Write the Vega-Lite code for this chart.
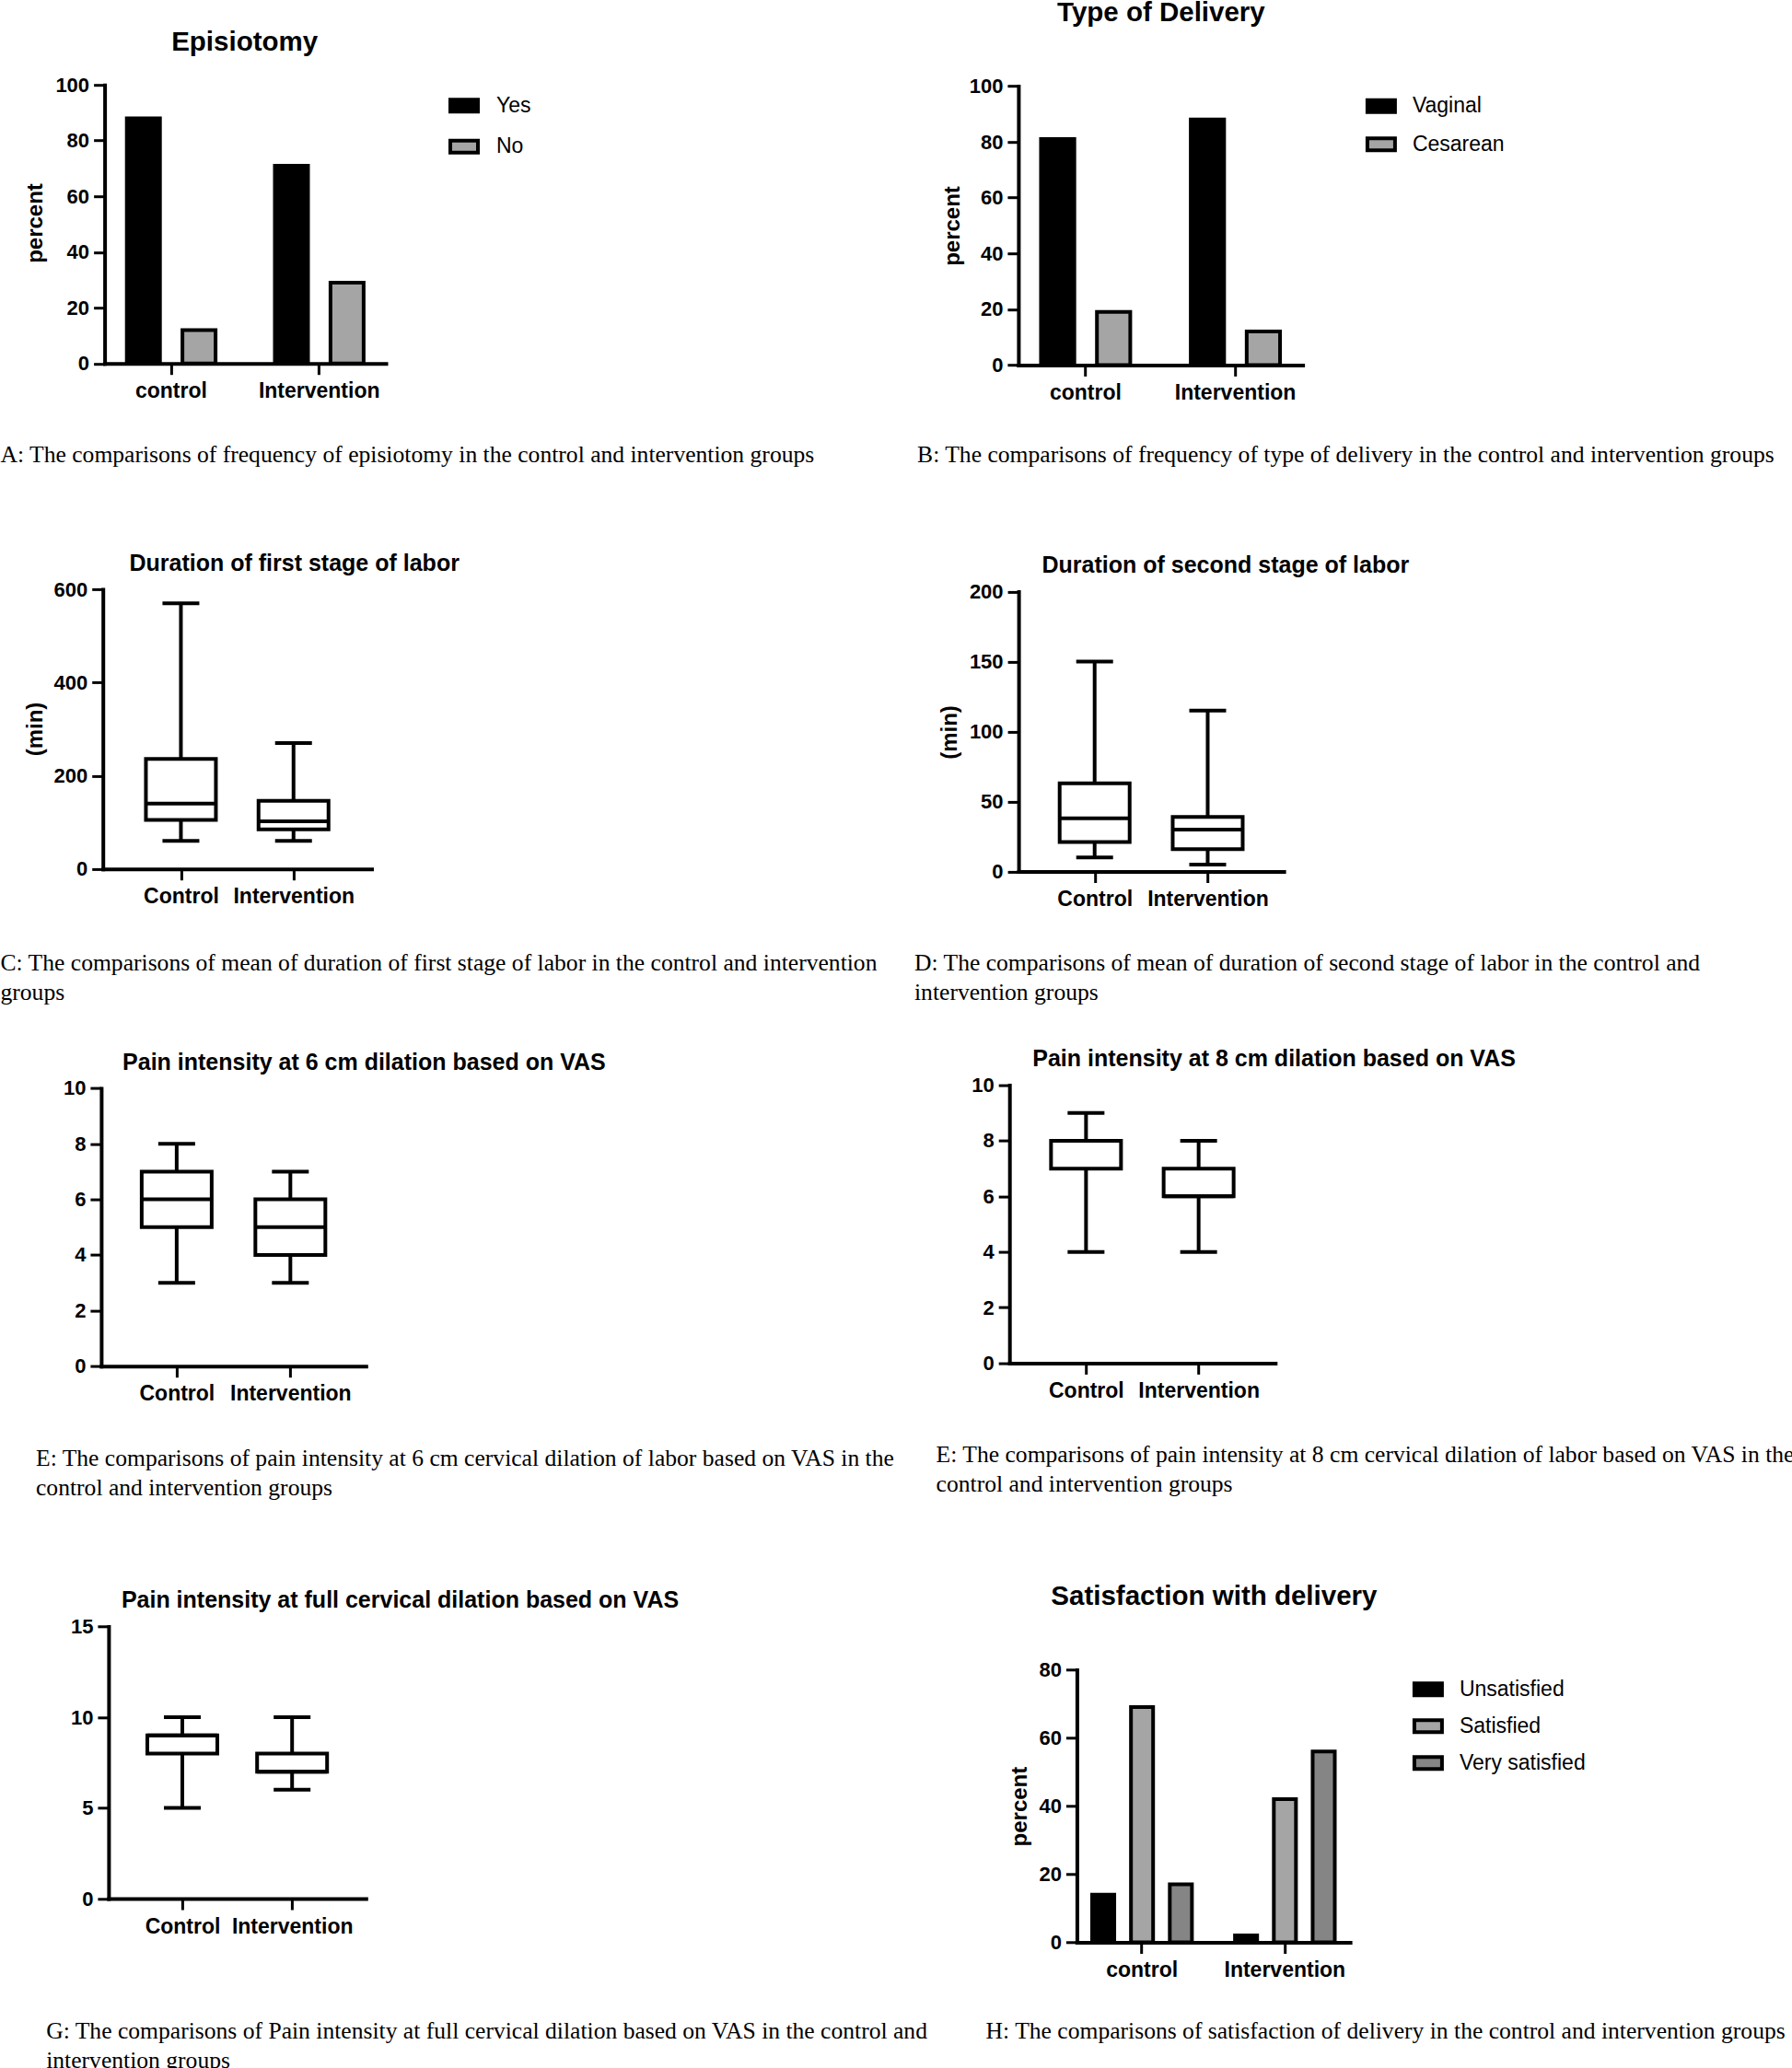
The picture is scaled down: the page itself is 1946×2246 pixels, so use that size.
{
  "$schema": "https://vega.github.io/schema/vega-lite/v6.json",
  "background": "white",
  "autosize": {"type": "none"},
  "padding": {"left": 109.9, "top": 92.2, "right": 1836.1, "bottom": 2153.8},
  "config": {
    "view": {"stroke": null},
    "font": "Liberation Sans",
    "axis": {
      "domainColor": "black", "domainWidth": 4, "domainCap": "square",
      "tickColor": "black", "tickWidth": 3, "tickSize": 12,
      "labelFont": "Liberation Sans", "labelFontWeight": "bold", "labelColor": "black",
      "titleFont": "Liberation Sans", "titleFontWeight": "bold", "titleColor": "black",
      "grid": false, "labelOverlap": false, "labelFlush": false, "titleLimit": 3000
    },
    "axisX": {"labelFontSize": 23, "labelPadding": 7, "labelAngle": 0,
      "titleFont": "Liberation Serif", "titleFontWeight": "normal", "titleFontSize": 25.6,
      "titleAlign": "left", "titleBaseline": "alphabetic", "titleLineHeight": 32, "titleAngle": 0},
    "axisY": {"labelFontSize": 22, "labelPadding": 5, "titleFontSize": 24, "titleBaseline": "middle", "titleAlign": "center"},
    "legend": {"orient": "none", "title": null, "padding": 0, "labelFont": "Liberation Sans", "labelFontSize": 23,
      "labelColor": "black", "symbolType": "M-1,-0.43H1V0.43H-1Z", "symbolSize": 900,
      "symbolStrokeColor": "black", "symbolStrokeWidth": 4, "labelOffset": 17},
    "title": {"font": "Liberation Sans", "fontWeight": "bold", "color": "black", "anchor": "middle", "frame": "group", "baseline": "alphabetic"}
  },
  "datasets": {
    "episiotomy": [
      {"group": "control", "answer": "Yes", "percent": 88},
      {"group": "control", "answer": "No", "percent": 12},
      {"group": "Intervention", "answer": "Yes", "percent": 71},
      {"group": "Intervention", "answer": "No", "percent": 29}
    ],
    "delivery": [
      {"group": "control", "type": "Vaginal", "percent": 81},
      {"group": "control", "type": "Cesarean", "percent": 19},
      {"group": "Intervention", "type": "Vaginal", "percent": 88},
      {"group": "Intervention", "type": "Cesarean", "percent": 12}
    ],
    "stage1": [
      {"group": "Control", "min": 60, "q1": 105, "median": 140, "q3": 236, "max": 570},
      {"group": "Intervention", "min": 60, "q1": 85, "median": 102, "q3": 146, "max": 270}
    ],
    "stage2": [
      {"group": "Control", "min": 10, "q1": 21, "median": 38, "q3": 63, "max": 150},
      {"group": "Intervention", "min": 5, "q1": 16, "median": 30, "q3": 39, "max": 115}
    ],
    "pain6": [
      {"group": "Control", "min": 3, "q1": 5, "median": 6, "q3": 7, "max": 8},
      {"group": "Intervention", "min": 3, "q1": 4, "median": 5, "q3": 6, "max": 7}
    ],
    "pain8": [
      {"group": "Control", "min": 4, "q1": 7, "median": 8, "q3": 8, "max": 9},
      {"group": "Intervention", "min": 4, "q1": 6, "median": 6, "q3": 7, "max": 8}
    ],
    "painfull": [
      {"group": "Control", "min": 5, "q1": 8, "median": 9, "q3": 9, "max": 10},
      {"group": "Intervention", "min": 6, "q1": 7, "median": 7, "q3": 8, "max": 10}
    ],
    "satisfaction": [
      {"group": "control", "level": "Unsatisfied", "percent": 14},
      {"group": "control", "level": "Satisfied", "percent": 69},
      {"group": "control", "level": "Very satisfied", "percent": 17},
      {"group": "Intervention", "level": "Unsatisfied", "percent": 2},
      {"group": "Intervention", "level": "Satisfied", "percent": 42},
      {"group": "Intervention", "level": "Very satisfied", "percent": 56}
    ]
  },
  "resolve": {
    "scale": {"x": "independent", "y": "independent", "xOffset": "independent", "color": "independent"},
    "axis": {"x": "independent", "y": "independent"},
    "legend": {"color": "independent"}
  },
  "columns": 2,
  "bounds": "flush",
  "align": "each",
  "spacing": {"row": 231.7, "column": 676.3},
  "concat": [
    {
      "width": 309.1, "height": 302.5,
      "title": {"text": "Episiotomy", "fontSize": 29.5, "offset": 20, "dx": 1.2},
      "data": {"name": "episiotomy"},
      "mark": {"type": "bar", "stroke": "black", "strokeWidth": 4},
      "encoding": {
        "x": {"field": "group", "type": "nominal", "sort": ["control", "Intervention"],
          "scale": {"paddingInner": 0.4005, "paddingOuter": 0.15, "range": [3.7, 309.1]},
          "axis": {"title": "A: The comparisons of frequency of episiotomy in the control and intervention groups", "titleX": -109.9, "titleY": 106.8}},
        "xOffset": {"field": "answer", "type": "nominal", "sort": ["Yes", "No"], "scale": {"paddingInner": 0.404, "paddingOuter": 0}},
        "y": {"field": "percent", "type": "quantitative", "scale": {"domain": [0, 100], "nice": false},
          "axis": {"values": [0, 20, 40, 60, 80, 100], "title": "percent", "offset": -3.7, "titleX": -75.1, "titleY": 149.8}},
        "color": {"field": "answer", "type": "nominal", "sort": ["Yes", "No"],
          "scale": {"domain": ["Yes", "No"], "range": ["#000000", "#a5a5a5"]},
          "legend": {"legendX": 377.1, "legendY": 5.6, "rowPadding": 12.5, "labelOffset": 18}}
      }
    },
    {
      "width": 318.4, "height": 304.2,
      "title": {"text": "Type of Delivery", "fontSize": 29.5, "offset": 53, "dx": 5.5},
      "data": {"name": "delivery"},
      "mark": {"type": "bar", "stroke": "black", "strokeWidth": 4},
      "encoding": {
        "x": {"field": "group", "type": "nominal", "sort": ["control", "Intervention"],
          "scale": {"paddingInner": 0.404, "paddingOuter": 0.151, "range": [9.7, 318.4]},
          "axis": {"title": "B: The comparisons of frequency of type of delivery in the control and intervention groups", "titleX": -100.6, "titleY": 105.1}},
        "xOffset": {"field": "type", "type": "nominal", "sort": ["Vaginal", "Cesarean"], "scale": {"paddingInner": 0.404, "paddingOuter": 0}},
        "y": {"field": "percent", "type": "quantitative", "scale": {"domain": [0, 100], "nice": false, "range": [304.2, 1.3]},
          "axis": {"values": [0, 20, 40, 60, 80, 100], "title": "percent", "offset": -9.7, "titleX": -71.8, "titleY": 152.8}},
        "color": {"field": "type", "type": "nominal", "sort": ["Vaginal", "Cesarean"],
          "scale": {"domain": ["Vaginal", "Cesarean"], "range": ["#000000", "#a5a5a5"]},
          "legend": {"legendX": 386.7, "legendY": 6, "rowPadding": 9.5, "labelOffset": 17}}
      }
    },
    {
      "width": 293.6, "height": 314.8,
      "title": {"text": "Duration of first stage of labor", "fontSize": 25, "offset": 4, "dx": 63},
      "data": {"name": "stage1"},
      "encoding": {
        "x": {"field": "group", "type": "nominal", "sort": ["Control", "Intervention"],
          "scale": {"type": "point", "padding": 0.693, "range": [1.8, 293.6]},
          "axis": {"title": ["\u00a0C: The comparisons of mean of duration of first stage of labor in the control and intervention", "groups"], "titleX": -109.9, "titleY": 109.9}}
      },
      "layer": [
        {"mark": {"type": "rule", "strokeWidth": 4, "color": "black"},
          "encoding": {"y": {"field": "min", "type": "quantitative", "title": "(min)", "scale": {"domain": [0, 600], "nice": false, "range": [314.8, 11.1]},
            "axis": {"values": [0, 200, 400, 600], "offset": -1.8, "titleX": -73, "titleY": 162.6}}, "y2": {"field": "max"}}},
        {"mark": {"type": "bar", "width": 76, "fill": "white", "stroke": "black", "strokeWidth": 4},
          "encoding": {"y": {"field": "q1", "type": "quantitative", "title": "(min)"}, "y2": {"field": "q3"}}},
        {"mark": {"type": "tick", "orient": "horizontal", "size": 76, "thickness": 4, "color": "black", "opacity": 1},
          "encoding": {"y": {"field": "median", "type": "quantitative", "title": "(min)"}}},
        {"mark": {"type": "tick", "orient": "horizontal", "size": 40, "thickness": 4, "color": "black", "opacity": 1},
          "encoding": {"y": {"field": "min", "type": "quantitative", "title": "(min)"}}},
        {"mark": {"type": "tick", "orient": "horizontal", "size": 40, "thickness": 4, "color": "black", "opacity": 1},
          "encoding": {"y": {"field": "max", "type": "quantitative", "title": "(min)"}}}
      ]
    },
    {
      "width": 297.9, "height": 317.6,
      "title": {"text": "Duration of second stage of labor", "fontSize": 25, "offset": 2, "dx": 85.7},
      "data": {"name": "stage2"},
      "encoding": {
        "x": {"field": "group", "type": "nominal", "sort": ["Control", "Intervention"],
          "scale": {"type": "point", "padding": 0.673, "range": [9.9, 297.9]},
          "axis": {"title": ["D: The comparisons of mean of duration of second stage of labor in the control and", "intervention groups"], "titleX": -103.7, "titleY": 107.1}}
      },
      "layer": [
        {"mark": {"type": "rule", "strokeWidth": 4, "color": "black"},
          "encoding": {"y": {"field": "min", "type": "quantitative", "title": "(min)", "scale": {"domain": [0, 200], "nice": false, "range": [317.6, 13.5]},
            "axis": {"values": [0, 50, 100, 150, 200], "offset": -9.9, "titleX": -74.5, "titleY": 166.1}}, "y2": {"field": "max"}}},
        {"mark": {"type": "bar", "width": 76, "fill": "white", "stroke": "black", "strokeWidth": 4},
          "encoding": {"y": {"field": "q1", "type": "quantitative", "title": "(min)"}, "y2": {"field": "q3"}}},
        {"mark": {"type": "tick", "orient": "horizontal", "size": 76, "thickness": 4, "color": "black", "opacity": 1},
          "encoding": {"y": {"field": "median", "type": "quantitative", "title": "(min)"}}},
        {"mark": {"type": "tick", "orient": "horizontal", "size": 40, "thickness": 4, "color": "black", "opacity": 1},
          "encoding": {"y": {"field": "min", "type": "quantitative", "title": "(min)"}}},
        {"mark": {"type": "tick", "orient": "horizontal", "size": 40, "thickness": 4, "color": "black", "opacity": 1},
          "encoding": {"y": {"field": "max", "type": "quantitative", "title": "(min)"}}}
      ]
    },
    {
      "width": 287.4, "height": 305.1,
      "title": {"text": "Pain intensity at 6 cm dilation based on VAS", "fontSize": 25, "offset": 3.5, "dx": 141.8},
      "data": {"name": "pain6"},
      "encoding": {
        "x": {"field": "group", "type": "nominal", "sort": ["Control", "Intervention"],
          "scale": {"type": "point", "padding": 0.664, "range": [0, 287.4]},
          "axis": {"title": ["E: The comparisons of pain intensity at 6 cm cervical dilation of labor based on VAS in the", "control and intervention groups"], "titleX": -71.4, "titleY": 107.5}}
      },
      "layer": [
        {"mark": {"type": "rule", "strokeWidth": 4, "color": "black"},
          "encoding": {"y": {"field": "min", "type": "quantitative", "title": null, "scale": {"domain": [0, 10], "nice": false, "range": [305.1, 3.3]},
            "axis": {"values": [0, 2, 4, 6, 8, 10]}}, "y2": {"field": "max"}}},
        {"mark": {"type": "bar", "width": 76, "fill": "white", "stroke": "black", "strokeWidth": 4},
          "encoding": {"y": {"field": "q1", "type": "quantitative", "title": null}, "y2": {"field": "q3"}}},
        {"mark": {"type": "tick", "orient": "horizontal", "size": 76, "thickness": 4, "color": "black", "opacity": 1},
          "encoding": {"y": {"field": "median", "type": "quantitative", "title": null}}},
        {"mark": {"type": "tick", "orient": "horizontal", "size": 40, "thickness": 4, "color": "black", "opacity": 1},
          "encoding": {"y": {"field": "min", "type": "quantitative", "title": null}}},
        {"mark": {"type": "tick", "orient": "horizontal", "size": 40, "thickness": 4, "color": "black", "opacity": 1},
          "encoding": {"y": {"field": "max", "type": "quantitative", "title": null}}}
      ]
    },
    {
      "width": 288.6, "height": 301.8,
      "title": {"text": "Pain intensity at 8 cm dilation based on VAS", "fontSize": 25, "offset": 4.8, "dx": 143.1},
      "data": {"name": "pain8"},
      "encoding": {
        "x": {"field": "group", "type": "nominal", "sort": ["Control", "Intervention"],
          "scale": {"type": "point", "padding": 0.68},
          "axis": {"title": ["E: The comparisons of pain intensity at 8 cm cervical dilation of labor based on VAS in the", "control and intervention groups"], "titleX": -80.1, "titleY": 107.5}}
      },
      "layer": [
        {"mark": {"type": "rule", "strokeWidth": 4, "color": "black"},
          "encoding": {"y": {"field": "min", "type": "quantitative", "title": null, "scale": {"domain": [0, 10], "nice": false},
            "axis": {"values": [0, 2, 4, 6, 8, 10]}}, "y2": {"field": "max"}}},
        {"mark": {"type": "bar", "width": 76, "fill": "white", "stroke": "black", "strokeWidth": 4},
          "encoding": {"y": {"field": "q1", "type": "quantitative", "title": null}, "y2": {"field": "q3"}}},
        {"mark": {"type": "tick", "orient": "horizontal", "size": 76, "thickness": 4, "color": "black", "opacity": 1},
          "encoding": {"y": {"field": "median", "type": "quantitative", "title": null}}},
        {"mark": {"type": "tick", "orient": "horizontal", "size": 40, "thickness": 4, "color": "black", "opacity": 1},
          "encoding": {"y": {"field": "min", "type": "quantitative", "title": null}}},
        {"mark": {"type": "tick", "orient": "horizontal", "size": 40, "thickness": 4, "color": "black", "opacity": 1},
          "encoding": {"y": {"field": "max", "type": "quantitative", "title": null}}}
      ]
    },
    {
      "width": 287.4, "height": 345.7,
      "title": {"text": "Pain intensity at full cervical dilation based on VAS", "fontSize": 25, "offset": -34.7, "dx": 180.9},
      "data": {"name": "painfull"},
      "encoding": {
        "x": {"field": "group", "type": "nominal", "sort": ["Control", "Intervention"],
          "scale": {"type": "point", "padding": 0.672, "range": [8, 287.4]},
          "axis": {"title": ["G: The comparisons of Pain intensity at full cervical dilation based on VAS in the control and", "intervention groups"], "titleX": -60.2, "titleY": 151.5}}
      },
      "layer": [
        {"mark": {"type": "rule", "strokeWidth": 4, "color": "black"},
          "encoding": {"y": {"field": "min", "type": "quantitative", "title": null, "scale": {"domain": [0, 15], "nice": false, "range": [345.7, 50.3]},
            "axis": {"values": [0, 5, 10, 15], "offset": -8}}, "y2": {"field": "max"}}},
        {"mark": {"type": "bar", "width": 76, "fill": "white", "stroke": "black", "strokeWidth": 4},
          "encoding": {"y": {"field": "q1", "type": "quantitative", "title": null}, "y2": {"field": "q3"}}},
        {"mark": {"type": "tick", "orient": "horizontal", "size": 76, "thickness": 4, "color": "black", "opacity": 1},
          "encoding": {"y": {"field": "median", "type": "quantitative", "title": null}}},
        {"mark": {"type": "tick", "orient": "horizontal", "size": 40, "thickness": 4, "color": "black", "opacity": 1},
          "encoding": {"y": {"field": "min", "type": "quantitative", "title": null}}},
        {"mark": {"type": "tick", "orient": "horizontal", "size": 40, "thickness": 4, "color": "black", "opacity": 1},
          "encoding": {"y": {"field": "max", "type": "quantitative", "title": null}}}
      ]
    },
    {
      "width": 369.9, "height": 393.2,
      "title": {"text": "Satisfaction with delivery", "fontSize": 29.5, "offset": -33.1, "dx": 37.25},
      "data": {"name": "satisfaction"},
      "mark": {"type": "bar", "stroke": "black", "strokeWidth": 4},
      "encoding": {
        "x": {"field": "group", "type": "nominal", "sort": ["control", "Intervention"],
          "scale": {"paddingInner": 0.3015, "paddingOuter": 0.107, "range": [73.2, 369.9]},
          "axis": {"title": "H: The comparisons of satisfaction of delivery in the control and intervention groups", "titleX": -26.1, "titleY": 104}},
        "xOffset": {"field": "level", "type": "nominal", "sort": ["Unsatisfied", "Satisfied", "Very satisfied"], "scale": {"paddingInner": 0.43, "paddingOuter": 0}},
        "y": {"field": "percent", "type": "quantitative", "scale": {"domain": [0, 80], "nice": false, "range": [393.2, 97.1]},
          "axis": {"values": [0, 20, 40, 60, 80], "title": "percent", "offset": -73.2, "titleX": -62, "titleY": 245.3}},
        "color": {"field": "level", "type": "nominal", "sort": ["Unsatisfied", "Satisfied", "Very satisfied"],
          "scale": {"domain": ["Unsatisfied", "Satisfied", "Very satisfied"], "range": ["#000000", "#a5a5a5", "#858585"]},
          "legend": {"legendX": 437.7, "legendY": 101.4, "rowPadding": 8, "labelOffset": 17}}
      }
    }
  ]
}
